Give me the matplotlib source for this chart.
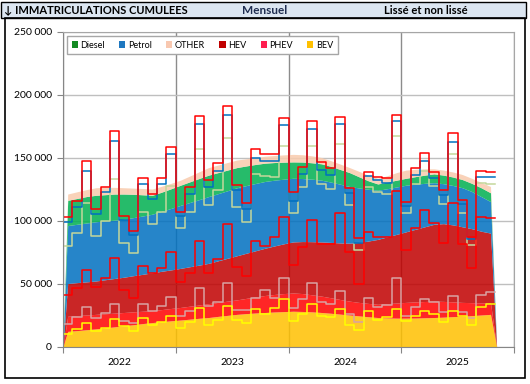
import numpy as np
import matplotlib.pyplot as plt
from matplotlib.patches import Rectangle, Patch
from matplotlib.ticker import FuncFormatter

plt.rcParams['font.family'] = ['Lato', 'DejaVu Sans']

# Raw monthly cumulative levels (Jan 2022 - Oct 2025), thousands
raw_bev = [9.7, 13.6, 18.9, 12.3, 14.9, 21.6, 16.3, 12.3, 22.4, 17.1, 19.7, 24.5,
           14.4, 19.2, 30.3, 17.1, 21, 32.4, 21, 18.4, 29.5, 25.8, 30.3, 37.7,
           20.2, 25.8, 33.5, 24.5, 23.7, 29.8, 17.1, 13.1, 28.2, 21, 23.1, 29.8,
           20.5, 24, 28.4, 25.5, 19.2, 28.4, 24.5, 17.1, 31.1, 33.5]
raw_phev = [17.6, 23.7, 31.1, 22.4, 26.3, 33.5, 20.2, 18.4, 33.5, 28.2, 32.1, 39,
            24.5, 28.4, 46.2, 32.4, 35.1, 50.7, 29, 29, 38.2, 44.8, 38.2, 54.1,
            30.3, 37.4, 50.1, 35.6, 33.5, 44, 25.5, 19.7, 38.2, 31.1, 32.9, 54.1,
            24.5, 31.6, 37.4, 35.1, 27.6, 40.3, 27.6, 22.4, 40.9, 43]
raw_hev = [40.9, 46.2, 60.4, 47.5, 54.1, 70, 44.8, 38.2, 63.9, 58.6, 62, 75.3,
           50.9, 58.6, 84, 58.6, 69.4, 97, 62.8, 55.9, 84, 80, 87.2, 102.5,
           64.7, 79.2, 100.4, 81.3, 81.3, 105.7, 74.7, 49.6, 91.1, 87.2, 87.2, 123.4,
           76.6, 93.8, 108.3, 97.8, 81.9, 114.2, 81.3, 62, 102.5, 101.7]
raw_petrol = [79.8, 89.8, 114, 87.7, 100, 132.7, 82, 74, 107, 97, 107, 127,
              94.3, 106.5, 156.5, 112.3, 124.2, 165.2, 111, 99, 136.6, 135.3, 134.3, 159,
              106.2, 126.3, 159, 128.7, 125, 160.7, 112.3, 76.6, 126.9, 122.9, 120.8, 167.1,
              106.2, 129, 139.3, 127.4, 113, 152.8, 105.7, 80.6, 129.5, 128.7]
raw_diesel = [99.1, 110.4, 139, 105.2, 122.6, 162.8, 100.5, 88.5, 128.7, 117, 129, 152.8,
              103.8, 120.8, 176.3, 126.3, 139.3, 183.7, 124.2, 109.1, 149.9, 147.2, 147.2, 175.9,
              115.5, 136.9, 172.4, 140.1, 136.1, 176.3, 121.6, 82.4, 135.3, 132.1, 130, 179,
              111.5, 136.1, 147.2, 134, 120.5, 162, 113, 85, 134.8, 134.3]
raw_other = [102.5, 115.2, 147, 109.1, 126.3, 170.8, 103.8, 91.7, 133.5, 121.2, 133.9, 158,
             106.5, 126.3, 182.7, 132.1, 145.4, 190.9, 128.2, 113.6, 156.5, 152.5, 152.5, 181,
             122.4, 142.2, 179.2, 146.7, 141.4, 181.9, 125.5, 85.8, 138.8, 134.3, 133.5, 183.7,
             114.4, 141.4, 153.3, 138.5, 124, 169.2, 116.3, 87.2, 139.6, 138.8]

# Smoothed cumulative levels, thousands
sm_bev = [12, 12.6, 13.3, 14, 14.8, 15.6, 16.5, 17.3, 18.2, 19, 19.7, 20.4,
          21, 21.7, 22.4, 23, 23.9, 24.7, 25.5, 26.1, 26.6, 27, 27.4, 27.7,
          28, 27.8, 27.5, 27, 26.4, 25.7, 25, 24.3, 23.6, 23, 22.7, 22.5,
          22.5, 22.6, 22.8, 23, 23.3, 23.7, 24, 24.5, 25, 25.5]
sm_phev = [24, 24.5, 25, 25.5, 26, 26.5, 27, 27.5, 28, 28.5, 29.3, 30.2,
           31, 32, 33, 34, 35, 36, 37, 38.2, 39.4, 40.5, 41.3, 42,
           42.5, 42, 41, 40, 38.7, 37.3, 36, 35, 34.2, 33.5, 34, 34.5,
           35, 35.4, 35.7, 36, 35.8, 35.4, 35, 34.8, 34.6, 34.5]
sm_hev = [50, 50.7, 51.3, 52, 53, 54, 55, 56.2, 57.3, 58.5, 59.7, 60.8,
          62, 63.3, 64.6, 66, 68, 70, 72, 74, 76, 78, 79.8, 81.5,
          83, 83.3, 83.2, 83, 82.6, 82.2, 82, 82.6, 83.7, 85, 87, 89,
          91, 93, 95, 97, 97.5, 96.5, 95, 93.5, 91.5, 90]
sm_petrol = [96, 97, 98, 99, 99.7, 100.3, 101, 102.3, 103.6, 105, 107.3, 109.6,
             112, 114.3, 116.6, 119, 121.3, 123.6, 126, 127.7, 129.4, 131, 132, 132.8,
             133.5, 133.3, 132.8, 132, 130.5, 128.8, 127, 125.8, 124.8, 124, 125.2, 126.6,
             128, 128.8, 129.5, 130, 129.2, 127.8, 126, 123, 119, 115]
sm_diesel = [116, 117.5, 119, 120, 120.5, 121, 121, 120.8, 120.4, 120, 122.5, 125.2,
             128, 130.7, 133.4, 136, 138, 140, 142, 143.3, 144.5, 145.5, 146, 146.3,
             146.5, 146.4, 145.8, 145, 143, 140.5, 138, 134.7, 131.5, 129, 130.5, 132,
             133.5, 134.8, 136, 137, 136, 134.5, 132.5, 129.5, 126, 122]
sm_other = [121, 122.8, 124.5, 126, 126.3, 126.3, 126, 125.7, 125.4, 125, 127.2, 129.5,
            132, 135.3, 138.7, 142, 144, 146, 148, 149, 150, 151, 151.6, 152.1,
            152.5, 152.2, 151.3, 150, 147.5, 144.8, 142, 139, 136, 133.5, 135.5, 138,
            140, 140.6, 141, 141, 140, 138.5, 136.5, 133.5, 130.3, 127]

years = ['2022', '2023', '2024', '2025']
legend_names = ['Diesel', 'Petrol', 'OTHER', 'HEV', 'PHEV', 'BEV']
legend_colors = ['#138A22', '#1F78C0', '#F8C8B0', '#C00000', '#FF1E50', '#FFC000']

fig = plt.figure(figsize=(5.3, 3.84), dpi=100)

# header bar and frame
fig.patches.append(Rectangle((1/530, 1-17.5/384), 525/530, 15.5/384, transform=fig.transFigure,
                             facecolor='#DCE6F1', edgecolor='black', lw=1))
fig.patches.append(Rectangle((5/530, 1-378/384), 520/530, 360.5/384, transform=fig.transFigure,
                             fill=False, edgecolor='black', lw=1.2))
fig.text(4/530, 1-10/384, '↓ IMMATRICULATIONS CUMULEES', fontsize=8, fontweight='bold',
         va='center', ha='left')
fig.text(265/530, 1-10/384, 'Mensuel', fontsize=8.5, fontweight='bold', color='#1F2D50',
         va='center', ha='center')
fig.text(426/530, 1-10/384, 'Lissé et non lissé', fontsize=8, fontweight='bold',
         va='center', ha='center')

ax = fig.add_axes([63/530, 1-346.5/384, 451/530, 315/384])

n = len(raw_other)
edges = np.arange(n + 1)
xs = np.concatenate([[0], np.arange(n) + 0.5, [n + 0.15, 48]])

# smoothed stacked areas
sm_levels = [sm_bev, sm_phev, sm_hev, sm_petrol, sm_diesel, sm_other]
area_colors = ['#FFC000', '#FF0000', '#C00000', '#0070C0', '#00B050', '#F8CBAD']
prev = np.zeros(len(xs))
for lvl, col in zip(sm_levels, area_colors):
    top = np.concatenate([[0], np.array(lvl) * 1000, [0, 0]])
    ax.fill_between(xs, prev, top, color=col, alpha=0.85, lw=0)
    prev = top

# raw monthly step lines
raw_levels = [(raw_petrol, '#C4D79B'), (raw_diesel, '#0070C0'), (raw_phev, '#D9A3A3'),
              (raw_bev, '#FFFF00'), (raw_hev, '#FF0000'), (raw_other, '#FF0000')]
for vals, col in raw_levels:
    v = np.array(vals) * 1000
    ax.step(edges, np.append(v, v[-1]), where='post', color=col, lw=1.1)

ax.set_xlim(0, 48)
ax.set_ylim(0, 250000)
ax.set_yticks(np.arange(0, 250001, 50000))
ax.yaxis.set_major_formatter(FuncFormatter(lambda v, p: f'{int(v):,}'.replace(',', ' ')))
ax.set_xticks([0, 12, 24, 36, 48])
ax.set_xticklabels([])
ax.set_xticks([6, 18, 30, 42], minor=True)
ax.set_xticklabels(years, minor=True)
ax.tick_params(axis='x', which='minor', length=0, labelsize=7.5, pad=8)
ax.tick_params(axis='x', which='major', length=4, color='#868686')
ax.tick_params(axis='y', length=4, color='#868686', labelsize=7.5, pad=4)
ax.grid(axis='y', color='#BFBFBF', lw=1)
ax.grid(axis='x', which='major', color='#8C8C8C', lw=1)
ax.set_axisbelow(True)
for s in ax.spines.values():
    s.set_color('#A6A6A6')
ax.spines['left'].set_color('#868686')
ax.spines['bottom'].set_color('#868686')

handles = [Patch(facecolor=c, edgecolor='none') for c in legend_colors]
ax.legend(handles, legend_names, ncol=6, loc='upper left', bbox_to_anchor=(0.009, 0.985),
          fontsize=6.5, frameon=True, fancybox=False, edgecolor='#A6A6A6', framealpha=1,
          handlelength=0.7, handleheight=0.7, handletextpad=0.3, columnspacing=1.55,
          borderpad=0.5, borderaxespad=0)

fig.savefig('out.png', dpi=100)
